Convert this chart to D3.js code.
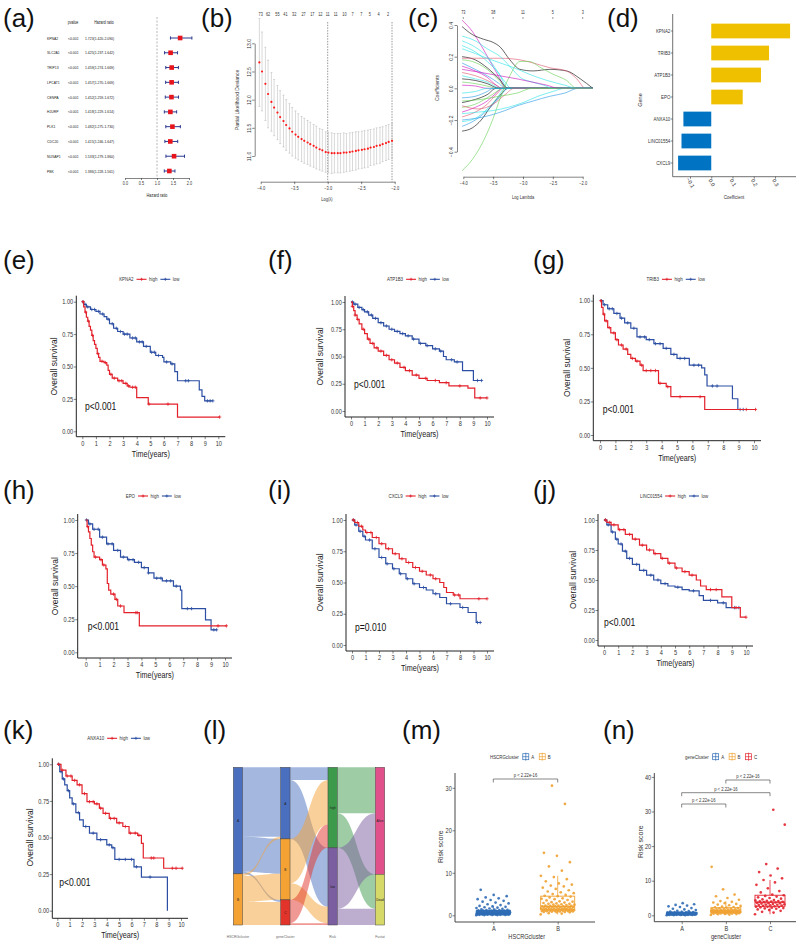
<!DOCTYPE html>
<html><head><meta charset="utf-8">
<script src="https://cdn.jsdelivr.net/npm/d3@7"></script>
<style>body{margin:0;background:#fff}svg{display:block}text{font-family:"Liberation Sans",Arial,sans-serif}</style>
</head><body><svg id="fig" width="799" height="944"></svg>
<script>
// ---------------- DATA ----------------
// (a) univariate Cox forest plot
const forestGenes = ["KPNA2","SLC2A1","TRIP13","LPCAT1","CENPA","HJURP","PLK1","CDC20","NUSAP1","PBK"];
const forestHR = [1.723,1.425,1.459,1.457,1.452,1.418,1.482,1.415,1.533,1.386];
const forestLo = [1.420,1.237,1.274,1.270,1.259,1.229,1.275,1.246,1.279,1.228];
const forestHi = [2.090,1.642,1.669,1.669,1.672,1.614,1.730,1.647,1.860,1.561];
const forestP = ["<0.001","<0.001","<0.001","<0.001","<0.001","<0.001","<0.001","<0.001","<0.001","<0.001"];
const forestTicks = [0.0,0.5,1.0,1.5,2.0];

// (b) cross-validation curve
const cvLogLambda = [-4.02,-3.98,-3.93,-3.89,-3.84,-3.80,-3.75,-3.71,-3.66,-3.62,-3.57,-3.53,-3.48,-3.44,-3.39,-3.35,-3.30,-3.26,-3.21,-3.17,-3.12,-3.08,-3.03,-2.99,-2.94,-2.90,-2.85,-2.81,-2.76,-2.72,-2.67,-2.63,-2.58,-2.54,-2.49,-2.45,-2.40,-2.36,-2.31,-2.27,-2.22,-2.18,-2.13,-2.09,-2.04];
const cvMean = [12.66,12.50,12.28,12.10,11.96,11.86,11.77,11.69,11.62,11.55,11.49,11.43,11.38,11.34,11.30,11.27,11.24,11.21,11.18,11.15,11.12,11.10,11.07,11.06,11.05,11.05,11.05,11.05,11.06,11.06,11.07,11.08,11.09,11.10,11.11,11.12,11.13,11.15,11.16,11.18,11.19,11.21,11.23,11.25,11.27];
const cvSD = [0.78,0.70,0.65,0.60,0.52,0.50,0.48,0.47,0.46,0.45,0.44,0.43,0.42,0.41,0.40,0.40,0.39,0.39,0.38,0.38,0.37,0.37,0.36,0.36,0.36,0.35,0.35,0.35,0.35,0.34,0.34,0.34,0.34,0.33,0.33,0.33,0.33,0.32,0.32,0.32,0.32,0.31,0.31,0.31,0.31];
const cvTopLambda = [-4.0,-3.89,-3.75,-3.63,-3.50,-3.36,-3.23,-3.11,-3.0,-2.88,-2.75,-2.63,-2.50,-2.37,-2.24,-2.10];
const cvTopDf = [73,62,55,41,32,27,17,12,11,11,10,7,7,5,4,2];
const cvLambdaMin = -3.0, cvLambda1se = -2.04;
const cvXTicks = [-4.0,-3.5,-3.0,-2.5,-2.0];
const cvYTicks = [11.0,11.5,12.0,12.5,13.0];

// (c) LASSO coefficient paths  [logLambda, coefficient]
const coefPaths = [
 [[-4.02,0.43],[-3.85,0.36],[-3.7,0.27],[-3.55,0.17],[-3.4,0.07],[-3.28,0]],
 [[-4.02,0.30],[-3.8,0.26],[-3.6,0.20],[-3.45,0.12],[-3.3,0.04],[-3.2,0]],
 [[-4.02,0.27],[-3.8,0.23],[-3.6,0.17],[-3.4,0.09],[-3.25,0]],
 [[-4.02,0.20],[-3.8,0.18],[-3.6,0.13],[-3.4,0.06],[-3.25,0]],
 [[-4.02,0.18],[-3.85,0.17],[-3.6,0.12],[-3.4,0.05],[-3.28,0]],
 [[-4.02,0.16],[-3.8,0.12],[-3.6,0.08],[-3.4,0.03],[-3.3,0]],
 [[-4.02,0.14],[-3.8,0.11],[-3.6,0.07],[-3.45,0.02],[-3.35,0]],
 [[-4.02,0.10],[-3.8,0.08],[-3.6,0.05],[-3.45,0.02],[-3.35,0]],
 [[-4.02,0.08],[-3.8,0.06],[-3.6,0.04],[-3.45,0.01],[-3.38,0]],
 [[-4.02,0.06],[-3.8,0.05],[-3.6,0.03],[-3.4,0]],
 [[-4.02,0.04],[-3.8,0.03],[-3.55,0.01],[-3.45,0]],
 [[-4.02,0.02],[-3.8,0.015],[-3.6,0]],
 [[-4.02,-0.27],[-3.85,-0.25],[-3.7,-0.20],[-3.55,-0.12],[-3.4,-0.05],[-3.25,0]],
 [[-4.02,-0.24],[-3.8,-0.20],[-3.6,-0.14],[-3.4,-0.06],[-3.25,0]],
 [[-4.02,-0.21],[-3.8,-0.19],[-3.6,-0.13],[-3.45,-0.07],[-3.3,0]],
 [[-4.02,-0.18],[-3.8,-0.15],[-3.6,-0.10],[-3.45,-0.04],[-3.33,0]],
 [[-4.02,-0.15],[-3.8,-0.12],[-3.6,-0.08],[-3.45,-0.03],[-3.35,0]],
 [[-4.02,-0.12],[-3.8,-0.10],[-3.6,-0.06],[-3.4,-0.01],[-3.35,0]],
 [[-4.02,-0.09],[-3.8,-0.07],[-3.6,-0.04],[-3.45,0]],
 [[-4.02,-0.06],[-3.8,-0.05],[-3.6,-0.02],[-3.5,0]],
 [[-4.02,-0.03],[-3.8,-0.02],[-3.6,0]],
 [[-4.02,-0.11],[-3.75,-0.13],[-3.5,-0.10],[-3.3,-0.04],[-3.15,0]],
 [[-4.02,0.39],[-3.85,0.34],[-3.66,0.31],[-3.5,0.29],[-3.38,0.26],[-3.22,0.18],[-3.05,0.12],[-2.83,0.11],[-2.55,0.12],[-2.27,0.11],[-2.04,0.06],[-1.83,0]],
 [[-4.02,0.19],[-3.66,0.19],[-3.38,0.19],[-3.05,0.18],[-2.83,0.16],[-2.55,0.13],[-2.27,0.11],[-2.1,0.06],[-1.95,0]],
 [[-4.02,-0.52],[-3.85,-0.45],[-3.66,-0.33],[-3.5,-0.19],[-3.38,-0.06],[-3.22,0.08],[-3.05,0.17],[-2.9,0.17],[-2.7,0.13],[-2.5,0.09],[-2.27,0.05],[-2.1,0]],
 [[-4.02,0.33],[-3.8,0.30],[-3.6,0.25],[-3.38,0.20],[-3.2,0.13],[-3.05,0.07],[-2.85,0.04],[-2.65,0.02],[-2.5,0]],
 [[-4.02,0.25],[-3.8,0.22],[-3.6,0.19],[-3.38,0.16],[-3.15,0.13],[-2.9,0.09],[-2.6,0.05],[-2.3,0.02],[-2.1,0]],
 [[-4.02,-0.20],[-3.8,-0.19],[-3.55,-0.17],[-3.3,-0.14],[-3.1,-0.11],[-2.83,-0.08],[-2.55,-0.05],[-2.3,-0.03],[-2.08,0]],
 [[-4.02,-0.16],[-3.75,-0.15],[-3.5,-0.14],[-3.25,-0.12],[-3.0,-0.09],[-2.75,-0.05],[-2.5,-0.02],[-2.3,0]],
 [[-4.02,0.12],[-3.7,0.10],[-3.4,0.08],[-3.1,0.06],[-2.85,0.04],[-2.6,0.02],[-2.4,0]],
 [[-4.02,-0.08],[-3.7,-0.07],[-3.4,-0.05],[-3.1,-0.03],[-2.85,0]]
];
const coefTopLambda = [-4.0,-3.5,-3.0,-2.5,-2.0];
const coefTopDf = [73,38,11,5,3];
const coefYTicks = [-0.4,-0.2,0.0,0.2,0.4];

// (d) multivariate coefficients
const coefGenes = ["KPNA2","TRIB3","ATP1B3","EPO","ANXA10","LINC01554","CXCL9"];
const coefValues = [0.371,0.272,0.234,0.148,-0.131,-0.140,-0.156];
const coefTicks = [-0.1,0.0,0.1,0.2,0.3];

// (e)-(k) Kaplan-Meier curves  [time, survival]
const kmTimeTicks = [0,1,2,3,4,5,6,7,8,9,10];
const kmSurvTicks = [0,0.25,0.5,0.75,1];
const KPNA2_high = [[0,1],[0.1,0.96],[0.2,0.92],[0.3,0.88],[0.4,0.85],[0.5,0.81],[0.6,0.78],[0.7,0.74],[0.8,0.70],[0.9,0.67],[1.0,0.64],[1.1,0.60],[1.2,0.57],[1.3,0.54],[1.6,0.53],[1.8,0.51],[1.9,0.47],[2.0,0.44],[2.2,0.41],[2.6,0.39],[3.0,0.37],[3.3,0.35],[3.5,0.34],[4.0,0.26],[4.85,0.21],[7.0,0.11],[10.1,0.11]];
const KPNA2_low = [[0,1],[0.1,0.98],[0.3,0.96],[0.6,0.94],[1.0,0.925],[1.3,0.905],[1.6,0.885],[1.8,0.865],[2.0,0.83],[2.3,0.795],[2.6,0.77],[3.0,0.75],[3.5,0.72],[4.0,0.69],[4.5,0.655],[5.0,0.61],[5.4,0.585],[5.9,0.57],[6.0,0.535],[6.5,0.52],[6.8,0.46],[7.0,0.39],[8.6,0.32],[8.8,0.27],[9.0,0.235],[9.6,0.235]];
const KPNA2_highCens = [0.05,0.25,0.45,0.75,1.15,1.45,1.7,2.1,2.35,2.7,2.9,3.2,3.4,3.7,3.9,4.9,6.3,10.1];
const KPNA2_lowCens = [0.05,0.2,0.4,0.7,0.9,1.2,1.5,1.9,2.2,2.5,2.8,3.1,3.3,3.7,3.9,4.2,4.4,4.7,5.1,5.3,5.6,6.2,6.6,7.6,7.8,9.2,9.4,9.6];
const ATP1B3_high = [[0,1],[0.1,0.96],[0.2,0.92],[0.3,0.88],[0.45,0.84],[0.6,0.80],[0.8,0.75],[1.0,0.71],[1.2,0.66],[1.4,0.62],[1.7,0.58],[2.0,0.55],[2.4,0.51],[2.8,0.47],[3.2,0.44],[3.6,0.40],[4.0,0.37],[4.5,0.33],[5.0,0.30],[5.6,0.28],[6.5,0.26],[7.2,0.23],[8.6,0.21],[9.1,0.12],[10.0,0.12]];
const ATP1B3_low = [[0,1],[0.2,0.98],[0.5,0.95],[0.8,0.93],[1.0,0.91],[1.3,0.88],[1.6,0.85],[2.0,0.81],[2.4,0.78],[2.8,0.75],[3.2,0.73],[3.6,0.71],[4.0,0.69],[4.5,0.66],[5.0,0.62],[5.5,0.60],[6.0,0.57],[6.5,0.55],[6.8,0.50],[7.0,0.47],[7.6,0.45],[8.2,0.37],[9.0,0.28],[9.6,0.28]];
const ATP1B3_highCens = [0.1,0.3,0.5,0.9,1.3,1.6,1.9,2.2,2.6,3.0,3.4,3.9,4.3,4.8,5.5,6.2,7.0,8.0,9.5,10.0];
const ATP1B3_lowCens = [0.1,0.3,0.6,0.9,1.2,1.5,1.8,2.2,2.6,3.0,3.4,3.8,4.2,4.6,5.1,5.6,6.2,6.6,7.4,7.8,9.3,9.6];
const TRIB3_high = [[0,1],[0.1,0.95],[0.2,0.90],[0.3,0.85],[0.5,0.80],[0.7,0.76],[1.0,0.71],[1.2,0.67],[1.5,0.64],[1.8,0.60],[2.0,0.57],[2.3,0.55],[2.6,0.52],[2.8,0.48],[3.8,0.385],[4.3,0.36],[4.6,0.285],[6.8,0.19],[10.1,0.19]];
const TRIB3_low = [[0,1],[0.2,0.97],[0.5,0.94],[0.9,0.905],[1.3,0.87],[1.6,0.835],[2.0,0.795],[2.4,0.73],[3.0,0.71],[3.5,0.68],[4.1,0.645],[4.6,0.60],[5.0,0.57],[5.8,0.52],[6.6,0.50],[6.8,0.447],[6.95,0.365],[8.6,0.27],[8.95,0.19],[9.4,0.19]];
const TRIB3_highCens = [0.05,0.25,0.4,0.6,0.9,1.1,1.4,1.7,2.1,2.4,2.7,3.0,3.3,3.6,3.9,4.4,5.2,6.5,9.5,10.1];
const TRIB3_lowCens = [0.1,0.3,0.6,0.8,1.1,1.4,1.8,2.2,2.6,2.9,3.2,3.6,3.9,4.3,4.8,5.2,5.5,6.1,6.4,7.3,7.6,9.1,9.3];
const EPO_high = [[0,1],[0.1,0.95],[0.2,0.91],[0.3,0.86],[0.4,0.81],[0.5,0.76],[0.6,0.72],[1.0,0.70],[1.2,0.66],[1.45,0.63],[1.55,0.52],[1.65,0.47],[1.8,0.44],[2.1,0.40],[2.3,0.35],[2.75,0.30],[3.85,0.20],[10.1,0.20]];
const EPO_low = [[0,1],[0.2,0.97],[0.5,0.93],[1.0,0.87],[1.5,0.82],[2.0,0.77],[2.5,0.72],[3.0,0.70],[3.5,0.68],[4.0,0.64],[4.5,0.60],[4.9,0.56],[5.5,0.54],[6.3,0.50],[6.8,0.47],[6.9,0.33],[8.6,0.245],[9.0,0.17],[9.4,0.17]];
const EPO_highCens = [0.15,0.7,1.1,1.3,2.0,2.2,2.5,3.6,3.7,9.5,10.1];
const EPO_lowCens = [0.05,0.3,0.6,0.9,1.2,1.6,1.9,2.3,2.7,3.1,3.4,3.8,4.2,4.5,5.1,5.4,5.8,6.1,6.5,7.3,7.6,9.2,9.4];
const CXCL9_high = [[0,1],[0.2,0.98],[0.5,0.95],[0.8,0.92],[1.0,0.90],[1.5,0.86],[2.0,0.81],[2.5,0.77],[3.0,0.73],[3.5,0.69],[4.0,0.66],[4.5,0.62],[5.0,0.59],[5.5,0.56],[6.0,0.53],[6.5,0.50],[6.8,0.46],[7.0,0.42],[7.5,0.40],[8.0,0.37],[10.0,0.37]];
const CXCL9_low = [[0,1],[0.2,0.96],[0.5,0.91],[0.8,0.87],[1.0,0.84],[1.5,0.77],[2.0,0.70],[2.5,0.65],[3.0,0.61],[3.5,0.57],[4.0,0.53],[4.5,0.49],[5.0,0.46],[5.5,0.44],[6.0,0.41],[6.5,0.38],[7.0,0.33],[8.0,0.30],[8.6,0.26],[9.2,0.18],[9.5,0.18]];
const CXCL9_highCens = [0.1,0.4,0.7,1.1,1.4,1.8,2.2,2.7,3.2,3.7,4.2,4.7,5.2,5.8,6.2,7.6,7.9,9.4,10.0];
const CXCL9_lowCens = [0.1,0.3,0.6,0.9,1.3,1.7,2.2,2.6,3.1,3.6,4.1,4.6,5.3,6.2,7.3,8.2,9.3,9.5];
const LINC01554_high = [[0,1],[0.2,0.98],[0.5,0.96],[1.0,0.92],[1.5,0.88],[2.0,0.84],[2.5,0.79],[3.0,0.75],[3.5,0.72],[4.0,0.68],[4.5,0.64],[5.0,0.60],[5.5,0.57],[6.0,0.54],[6.5,0.50],[6.8,0.45],[7.2,0.42],[8.3,0.36],[9.0,0.27],[9.6,0.19],[10.0,0.19]];
const LINC01554_low = [[0,1],[0.2,0.96],[0.5,0.90],[0.8,0.84],[1.0,0.80],[1.3,0.74],[1.6,0.68],[2.0,0.63],[2.5,0.58],[3.0,0.54],[3.5,0.50],[4.0,0.47],[4.5,0.45],[5.0,0.44],[5.5,0.42],[6.0,0.41],[6.7,0.37],[7.0,0.33],[8.0,0.31],[8.6,0.27],[9.5,0.27]];
const LINC01554_highCens = [0.1,0.4,0.7,1.1,1.4,1.8,2.2,2.7,3.2,3.6,4.1,4.6,5.1,5.7,6.2,7.5,7.9,9.3,10.0];
const LINC01554_lowCens = [0.1,0.3,0.6,0.9,1.2,1.5,1.8,2.3,2.8,3.3,3.8,4.3,5.2,6.3,7.5,8.4,9.2,9.5];
const ANXA10_high = [[0,1],[0.3,0.96],[0.7,0.92],[1.2,0.89],[1.6,0.86],[2.0,0.80],[2.4,0.745],[3.0,0.73],[3.4,0.70],[3.7,0.665],[4.2,0.63],[4.8,0.60],[5.3,0.575],[5.8,0.53],[6.5,0.515],[6.8,0.46],[6.95,0.36],[8.6,0.29],[10.1,0.29]];
const ANXA10_low = [[0,1],[0.2,0.95],[0.4,0.90],[0.6,0.86],[0.8,0.82],[1.0,0.77],[1.2,0.73],[1.5,0.67],[1.8,0.62],[2.1,0.575],[2.6,0.53],[3.2,0.485],[4.0,0.45],[4.4,0.43],[4.65,0.35],[6.2,0.30],[6.8,0.23],[8.9,0.0]];
const ANXA10_highCens = [0.1,0.4,0.8,1.1,1.4,1.8,2.2,2.6,2.9,3.2,3.5,3.9,4.3,4.6,5.0,5.5,5.9,6.3,6.6,7.6,7.8,9.3,9.6,10.1];
const ANXA10_lowCens = [0.1,0.3,0.5,0.9,1.3,1.7,2.3,2.9,3.5,4.2,4.5,5.0,5.5,6.0,6.4,7.5];
const kmPValues = {KPNA2:"p<0.001",ATP1B3:"p<0.001",TRIB3:"p<0.001",EPO:"p<0.001",CXCL9:"p=0.010",LINC01554:"p<0.001",ANXA10:"p<0.001"};

// (l) alluvial
const alluvAxisNames = ["HSCRGcluster","geneCluster","Risk","Fustat"];
const alluvStrata = [["A","B"],["A","B","C"],["high","low"],["Alive","Dead"]];
const flows12 = [[163,82,5],[5,61,54]];
const flows23 = [[30,138],[104,39],[55,4]];
const flows34 = [[108,81],[143,38]];

// (m) risk score by HSCRGcluster
const riskHSCRG_A = [0.03,0.05,0.06,0.08,0.1,0.11,0.12,0.14,0.15,0.16,0.18,0.19,0.2,0.21,0.22,0.23,0.24,0.25,0.26,0.27,0.28,0.29,0.3,0.3,0.31,0.32,0.34,0.35,0.36,0.38,0.39,0.4,0.41,0.43,0.44,0.45,0.46,0.47,0.48,0.5,0.5,0.52,0.53,0.54,0.55,0.56,0.57,0.58,0.6,0.6,0.62,0.63,0.64,0.65,0.66,0.67,0.68,0.7,0.72,0.73,0.74,0.75,0.77,0.78,0.8,0.82,0.83,0.84,0.86,0.88,0.9,0.92,0.93,0.95,0.97,1.0,1.02,1.05,1.08,1.1,1.12,1.15,1.2,1.25,1.3,1.35,1.4,1.5,1.6,1.7,1.8,1.9,2.0,2.1,2.2,2.4,2.6,2.8,3.0,3.2,3.4,3.6,3.8,4.0,4.2,4.5,4.8,6.0];
const riskHSCRG_B = [0.2,0.4,0.5,0.7,0.7,0.8,0.8,0.85,0.9,0.9,0.95,1.0,1.0,1.0,1.05,1.1,1.1,1.1,1.15,1.2,1.2,1.2,1.25,1.3,1.3,1.3,1.35,1.4,1.4,1.4,1.45,1.5,1.5,1.6,1.6,1.6,1.7,1.7,1.8,1.8,1.8,1.9,1.9,1.9,2.0,2.0,2.1,2.1,2.1,2.2,2.2,2.3,2.3,2.4,2.5,2.5,2.6,2.7,2.7,2.8,2.9,3.0,3.1,3.2,3.3,3.5,3.6,3.8,3.9,4.0,4.2,4.4,4.5,4.6,4.8,5.0,5.2,5.4,5.6,5.9,6.2,6.5,6.8,7.0,7.2,7.5,8.0,8.5,9.0,9.3,10.5,11.5,12.5,14.0,14.7,26.2,30.5];
const hscrgCats = ["A","B"];
const hscrgYTicks = [0,10,20,30];

// (n) risk score by geneCluster
const riskGene_A = [0.02,0.05,0.07,0.08,0.1,0.12,0.14,0.15,0.16,0.17,0.18,0.2,0.21,0.22,0.23,0.24,0.25,0.26,0.27,0.28,0.29,0.3,0.31,0.32,0.33,0.34,0.35,0.36,0.37,0.38,0.39,0.4,0.41,0.42,0.43,0.44,0.44,0.45,0.46,0.47,0.48,0.49,0.5,0.51,0.52,0.53,0.54,0.55,0.56,0.57,0.58,0.59,0.6,0.61,0.62,0.63,0.64,0.65,0.66,0.67,0.68,0.69,0.7,0.72,0.74,0.76,0.78,0.8,0.83,0.86,0.9,0.95,1.0,1.1,1.2,1.3,1.5,1.7,1.9,2.1,2.4,2.6,2.8,3.0,3.2,3.5];
const riskGene_B = [0.1,0.2,0.3,0.35,0.4,0.45,0.5,0.55,0.6,0.62,0.65,0.68,0.7,0.72,0.75,0.78,0.8,0.82,0.85,0.88,0.9,0.92,0.95,0.98,1.0,1.02,1.05,1.08,1.1,1.12,1.15,1.18,1.2,1.22,1.25,1.28,1.3,1.35,1.4,1.45,1.5,1.55,1.6,1.65,1.7,1.75,1.8,1.85,1.9,2.0,2.1,2.2,2.3,2.4,2.5,2.7,2.9,3.1,3.3,3.5,3.7,3.9,4.1,4.5,5.0,5.5,6.0,7.5,14.0];
const riskGene_C = [0.3,0.8,1.0,1.3,1.5,1.7,1.9,2.0,2.1,2.2,2.3,2.4,2.45,2.5,2.6,2.7,2.8,2.9,3.0,3.05,3.1,3.2,3.3,3.4,3.45,3.5,3.6,3.7,3.8,3.9,3.95,4.0,4.1,4.2,4.3,4.4,4.6,4.8,5.0,5.2,5.4,5.6,5.8,6.0,6.6,7.0,7.8,8.8,9.5,10.2,10.7,11.5,12.5,13.5,14.8,26.2,30.5];
const geneCats = ["A","B","C"];
const geneYTicks = [0,10,20,30,40];
const pLabel = "p < 2.22e-16";

// ---------------- DRAWING ----------------
const svg = d3.select("#fig");
svg.append("rect").attr("width",799).attr("height",944).attr("fill","#fff");

function T(g,x,y,s,o={}){
  const sx = o.sx===undefined?0.8:o.sx;
  let tr=`translate(${x},${y})`;
  if(o.rot) tr+=` rotate(${o.rot})`;
  if(sx!==1) tr+=` scale(${sx},1)`;
  return g.append("text").attr("transform",tr).attr("font-size",o.size||6)
    .attr("text-anchor",o.anchor||"start").attr("dy",o.dy||null)
    .attr("fill",o.fill||"#1a1a1a").text(s);
}
function styleAxis(sel,size,sx,color,keepDomain){
  sel.attr("font-family",null);
  if(!keepDomain) sel.select(".domain").remove(); else sel.select(".domain").attr("stroke",color).attr("stroke-width",0.6);
  sel.selectAll(".tick line").attr("stroke",color).attr("stroke-width",0.6);
  sel.selectAll(".tick text").attr("font-size",size).attr("fill",color).attr("transform",`scale(${sx},1)`);
}
function L(g,x1,y1,x2,y2,c,w,dash){
  return g.append("line").attr("x1",x1).attr("y1",y1).attr("x2",x2).attr("y2",y2)
    .attr("stroke",c).attr("stroke-width",w).attr("stroke-dasharray",dash||null);
}

// panel labels
[["(a)",3,27],["(b)",201,27],["(c)",408,27],["(d)",607,27],
 ["(e)",3,269],["(f)",268,269],["(g)",533,269],
 ["(h)",3,499],["(i)",268,499],["(j)",533,499],
 ["(k)",3,739],["(l)",203,739],["(m)",402,739],["(n)",603,739]]
 .forEach(p=>T(svg,p[1],p[2],p[0],{size:26,sx:1,fill:"#111"}));

// ---- (a) forest ----
(function(){
  const g=svg.append("g");
  const y=d3.scalePoint().domain(forestGenes).range([38,171]);
  const x=d3.scaleLinear().domain([0,2]).range([125,189]);
  T(g,73,24,"pvalue",{size:4.5,anchor:"middle"});
  T(g,104,24,"Hazard ratio",{size:4.5,anchor:"middle"});
  L(g,x(1),17,x(1),177,"#999",0.7,"2,1.5");
  forestGenes.forEach((gn,i)=>{
    const yy=y(gn);
    T(g,47,yy,gn,{size:4.3,dy:"0.35em"});
    T(g,68,yy,forestP[i],{size:4.3,dy:"0.35em"});
    T(g,85,yy,`${forestHR[i].toFixed(3)}(${forestLo[i].toFixed(3)}-${forestHi[i].toFixed(3)})`,{size:4.3,dy:"0.35em"});
    L(g,x(forestLo[i]),yy,x(forestHi[i]),yy,"#2B3990",1);
    L(g,x(forestLo[i]),yy-1.6,x(forestLo[i]),yy+1.6,"#2B3990",1);
    L(g,x(forestHi[i]),yy-1.6,x(forestHi[i]),yy+1.6,"#2B3990",1);
    g.append("rect").attr("x",x(forestHR[i])-2.3).attr("y",yy-2.3).attr("width",4.6).attr("height",4.6).attr("fill","#E8141B");
  });
  const ax=g.append("g").attr("transform","translate(0,178)")
    .call(d3.axisBottom(x).tickValues(forestTicks).tickFormat(d3.format(".1f")).tickSize(2).tickSizeOuter(0).tickPadding(1.5));
  styleAxis(ax,4.5,0.85,"#333",true);
  T(g,157,197,"Hazard ratio",{size:4.8,anchor:"middle"});
})();

// ---- (b) CV ----
(function(){
  const g=svg.append("g");
  const x=d3.scaleLinear().domain([-4,-2]).range([260.7,394.7]);
  const y=d3.scaleLinear().domain([11,13]).range([156,43.3]);
  L(g,x(cvLambdaMin),22,x(cvLambdaMin),181.7,"#555",0.6,"1.5,1.2");
  L(g,x(cvLambda1se),22,x(cvLambda1se),181.7,"#555",0.6,"1.5,1.2");
  cvLogLambda.forEach((l,i)=>{
    const xx=x(l), y1=y(cvMean[i]-cvSD[i]), y2=y(cvMean[i]+cvSD[i]);
    L(g,xx,y1,xx,y2,"#b3b3b3",0.5);
    L(g,xx-1,y1,xx+1,y1,"#b3b3b3",0.5);
    L(g,xx-1,y2,xx+1,y2,"#b3b3b3",0.5);
  });
  cvLogLambda.forEach((l,i)=>g.append("circle").attr("cx",x(l)).attr("cy",y(cvMean[i])).attr("r",1.1).attr("fill","#FF1A1A"));
  const ax=g.append("g").attr("transform","translate(0,181.7)")
    .call(d3.axisBottom(x).tickValues(cvXTicks).tickFormat(d3.format(".1f")).tickSize(2.5).tickSizeOuter(0).tickPadding(2));
  styleAxis(ax,5,0.8,"#333",true);
  const ay=g.append("g").attr("transform","translate(254.7,0)")
    .call(d3.axisLeft(y).tickValues(cvYTicks).tickFormat(d3.format(".1f")).tickSize(2.5).tickSizeOuter(0));
  styleAxis(ay,5,1,"#333",true);
  ay.selectAll(".tick text").attr("transform","rotate(-90)").attr("text-anchor","middle").attr("x",0).attr("y",-4).attr("dy",0);
  cvTopLambda.forEach((l,i)=>T(g,x(l),16,String(cvTopDf[i]),{size:4.8,anchor:"middle",fill:"#333"}));
  T(g,239,100,"Partial Likelihood Deviance",{size:5,rot:-90,anchor:"middle",sx:1,fill:"#333"});
  T(g,327,201,"Log(λ)",{size:5,anchor:"middle",fill:"#333"});
})();

// ---- (c) coefficient paths ----
(function(){
  const g=svg.append("g");
  const x=d3.scaleLinear().domain([-4,-2]).range([463.3,582.7]);
  const y=d3.scaleLinear().domain([-0.4,0.4]).range([151.7,25]);
  const pal=["#000000","#DF536B","#61D04F","#2297E6","#28E2E5","#CD0BBC"];
  const colorIdx=[5,4,4,0,2,3,5,1,4,0,2,5,0,3,4,1,5,2,0,3,4,1,0,1,2,4,4,3,4,5,2];
  const line=d3.line().x(d=>x(d[0])).y(d=>y(d[1])).curve(d3.curveMonotoneX);
  coefPaths.forEach((p,i)=>{
    const pts=p.slice();
    const last=pts[pts.length-1];
    if(last[1]===0 && last[0]<-1.83) pts.push([-1.83,0]);
    g.append("path").attr("d",line(pts)).attr("fill","none").attr("stroke",pal[colorIdx[i]%6]).attr("stroke-width",0.6);
  });
  const ax=g.append("g").attr("transform","translate(0,176.7)")
    .call(d3.axisBottom(x).tickValues(cvXTicks).tickFormat(d3.format(".1f")).tickSize(2.5).tickSizeOuter(0).tickPadding(2));
  styleAxis(ax,5,0.8,"#333",true);
  const ay=g.append("g").attr("transform","translate(457,0)")
    .call(d3.axisLeft(y).tickValues(coefYTicks).tickFormat(d3.format(".1f")).tickSize(2.5).tickSizeOuter(0));
  styleAxis(ay,5,1,"#333",true);
  ay.selectAll(".tick text").attr("transform","rotate(-90)").attr("text-anchor","middle").attr("x",0).attr("y",-4).attr("dy",0);
  coefTopLambda.forEach((l,i)=>{
    T(g,x(l),14,String(coefTopDf[i]),{size:4.8,anchor:"middle",fill:"#333"});
    L(g,x(l),17,x(l),19,"#333",0.5);
  });
  T(g,439,88,"Coefficients",{size:5,rot:-90,anchor:"middle",sx:1,fill:"#333"});
  T(g,523,199,"Log Lambda",{size:5,anchor:"middle",fill:"#333"});
})();

// ---- (d) coefficient bars ----
(function(){
  const g=svg.append("g");
  const y=d3.scaleBand().domain(coefGenes).range([20,174]).paddingInner(0.33).paddingOuter(0.165);
  const x=d3.scaleLinear().domain([-0.1,0.3]).range([690,775]);
  coefGenes.forEach((gn,i)=>{
    const v=coefValues[i];
    g.append("rect").attr("x",Math.min(x(0),x(v))).attr("y",y(gn)).attr("width",Math.abs(x(v)-x(0))).attr("height",y.bandwidth())
      .attr("fill",v>0?"#EFC000":"#0073C2");
  });
  const ay=g.append("g").attr("transform","translate(672.7,0)").call(d3.axisLeft(y).tickSize(2).tickPadding(1));
  styleAxis(ay,5.5,0.8,"#333");
  L(g,672.7,14,672.7,176.7,"#333",0.7);
  const ax=g.append("g").attr("transform","translate(0,176.7)").call(d3.axisBottom(x).tickValues(coefTicks).tickFormat(d3.format(".1f")).tickSize(2));
  styleAxis(ax,5.5,1,"#333");
  ax.selectAll(".tick text").attr("transform","translate(0,6) rotate(60)").attr("text-anchor","middle").attr("y",0).attr("dy","0.35em");
  L(g,672.7,176.7,796,176.7,"#333",0.7);
  T(g,734,199,"Coefficient",{size:5.5,anchor:"middle",fill:"#333"});
  T(g,641.7,100,"Gene",{size:5.5,rot:-90,anchor:"middle",sx:1,fill:"#333"});
})();

// ---- KM panels ----
const RED="#E3212B", BLUE="#2C4FA3";
function survAt(pts,t){let s=pts[0][1];for(const p of pts){if(p[0]<=t)s=p[1];else break;}return s;}
function drawKM(cfg,gene,high,low,highC,lowC){
  const g=svg.append("g");
  const x=d3.scaleLinear().domain([0,10]).range([cfg.x0,cfg.x10]);
  const y=d3.scaleLinear().domain([0,1]).range([cfg.y0,cfg.y1]);
  const xr=cfg.x10+7;
  const gx=g.append("g").attr("transform",`translate(0,${cfg.ay})`)
    .call(d3.axisBottom(x).tickValues(kmTimeTicks).tickFormat(d3.format("d")).tickSize(2.5).tickPadding(1.5));
  styleAxis(gx,7,0.8,"#333");
  const gy=g.append("g").attr("transform",`translate(${cfg.ax},0)`)
    .call(d3.axisLeft(y).tickValues(kmSurvTicks).tickFormat(d3.format(".2f")).tickSize(2.5).tickPadding(1.5));
  styleAxis(gy,7,0.8,"#333");
  L(g,cfg.ax,cfg.ay,xr,cfg.ay,"#222",1);
  L(g,cfg.ax,cfg.y1-6,cfg.ax,cfg.ay,"#222",1);
  [[low,lowC,BLUE],[high,highC,RED]].forEach(([pts,cens,col])=>{
    let d=`M${x(pts[0][0])},${y(pts[0][1])}`;
    for(let i=1;i<pts.length;i++) d+=`H${x(pts[i][0])}V${y(pts[i][1])}`;
    g.append("path").attr("d",d).attr("fill","none").attr("stroke",col).attr("stroke-width",1.2);
    cens.forEach(t=>{
      const cx=x(t), cy=y(survAt(pts,t));
      g.append("path").attr("d",`M${cx-1.6},${cy}h3.2M${cx},${cy-1.7}v3.4`).attr("stroke",col).attr("stroke-width",0.8);
    });
  });
  T(g,cfg.ytx,(cfg.y0+cfg.y1)/2,"Overall survival",{size:8.5,rot:-90,anchor:"middle",sx:1,fill:"#222"});
  T(g,(cfg.ax+xr)/2,cfg.ay+20,"Time(years)",{size:9,anchor:"middle",fill:"#222"});
  T(g,cfg.px,cfg.py,kmPValues[gene],{size:11,sx:0.78,fill:"#111"});
  // legend
  const lg=g.append("g");
  const sx=0.8;
  const t1=T(lg,0,0,gene,{size:5.5,dy:"0.35em",fill:"#333"});
  let pos=t1.node().getComputedTextLength()*sx+3;
  [[RED,"high"],[BLUE,"low"]].forEach(([c,lab])=>{
    L(lg,pos,0,pos+10,0,c,1.1);
    lg.append("path").attr("d",`M${pos+3.5},0h3M${pos+5},-1.5v3`).attr("stroke",c).attr("stroke-width",0.8);
    pos+=12.5;
    const tt=T(lg,pos,0,lab,{size:5.5,dy:"0.35em",fill:"#333"});
    pos+=tt.node().getComputedTextLength()*sx+3;
  });
  lg.attr("transform",`translate(${(cfg.ax+xr)/2-pos/2},${cfg.ly})`);
}
drawKM({x0:82.3,x10:218.3,y1:301.7,y0:431.3,ax:76.3,ay:436.7,ytx:56.7,px:85,py:410,ly:279.3},"KPNA2",KPNA2_high,KPNA2_low,KPNA2_highCens,KPNA2_lowCens);
drawKM({x0:351,x10:487,y1:302,y0:411,ax:345,ay:417,ytx:323,px:354,py:388,ly:279.3},"ATP1B3",ATP1B3_high,ATP1B3_low,ATP1B3_highCens,ATP1B3_lowCens);
drawKM({x0:600,x10:754,y1:300.7,y0:435,ax:593.3,ay:440.7,ytx:570,px:602.7,py:413,ly:279.3},"TRIB3",TRIB3_high,TRIB3_low,TRIB3_highCens,TRIB3_lowCens);
drawKM({x0:85.7,x10:225,y1:520,y0:652.3,ax:77.7,ay:658,ytx:58.3,px:87.7,py:630,ly:496},"EPO",EPO_high,EPO_low,EPO_highCens,EPO_lowCens);
drawKM({x0:352,x10:487,y1:520,y0:645,ax:346,ay:651,ytx:323,px:355,py:631,ly:496},"CXCL9",CXCL9_high,CXCL9_low,CXCL9_highCens,CXCL9_lowCens);
drawKM({x0:604,x10:746,y1:520,y0:640,ax:598,ay:646,ytx:576,px:604,py:626,ly:496},"LINC01554",LINC01554_high,LINC01554_low,LINC01554_highCens,LINC01554_lowCens);
drawKM({x0:57.3,x10:181,y1:764.3,y0:910.7,ax:52.3,ay:918.3,ytx:33.3,px:59.3,py:886,ly:738.3},"ANXA10",ANXA10_high,ANXA10_low,ANXA10_highCens,ANXA10_lowCens);

// ---- (l) alluvial ----
(function(){
  const g=svg.append("g");
  const flowsAll=[flows12,flows23,flows34];
  const colSums=F=>F[0].map((_,j)=>d3.sum(F,r=>r[j]));
  const sizes=[flows12.map(r=>d3.sum(r)),colSums(flows12),colSums(flows23),colSums(flows34)];
  const total=d3.sum(sizes[0]);
  const yL=d3.scaleLinear().domain([0,total]).range([767.3,925]);
  const xL=d3.scalePoint().domain(alluvAxisNames).range([238,380]);
  const sw=9.4;
  const starts=sizes.map(s=>{let c=0;return s.map(v=>{const o=c;c+=v;return o;});});
  const colors=[["#4A6FBF","#F4A233"],["#4A6FBF","#F4A233","#E2342A"],["#3D9A4B","#7B5EA0"],["#E1508B","#D6D867"]];
  flowsAll.forEach((F,a)=>{
    const src=starts[a].slice(), tgt=starts[a+1].slice();
    const x1=xL(alluvAxisNames[a])+sw/2, x2=xL(alluvAxisNames[a+1])-sw/2, xm=(x1+x2)/2;
    F.forEach((row,i)=>row.forEach((v,j)=>{
      if(v<=0) return;
      const a1=yL(src[i]), a2=yL(src[i]+v); src[i]+=v;
      const b1=yL(tgt[j]), b2=yL(tgt[j]+v); tgt[j]+=v;
      g.append("path").attr("d",`M${x1},${a1}C${xm},${a1} ${xm},${b1} ${x2},${b1}L${x2},${b2}C${xm},${b2} ${xm},${a2} ${x1},${a2}Z`)
        .attr("fill",colors[a][i]).attr("fill-opacity",0.5).attr("stroke","none");
    }));
  });
  sizes.forEach((s,a)=>{
    const xc=xL(alluvAxisNames[a]);
    s.forEach((v,k)=>{
      g.append("rect").attr("x",xc-sw/2).attr("y",yL(starts[a][k])).attr("width",sw).attr("height",yL(v)-yL(0))
        .attr("fill",colors[a][k]).attr("stroke","#444").attr("stroke-width",0.5);
      T(g,xc,yL(starts[a][k]+v/2),alluvStrata[a][k],{size:4,anchor:"middle",dy:"0.35em",fill:"#222"});
    });
    T(g,xc,938,alluvAxisNames[a],{size:4.3,anchor:"middle",fill:"#666"});
  });
})();

// ---- (m), (n) box plots ----
function drawBox(cfg){
  const g=svg.append("g");
  const y=d3.scaleLinear().domain([0,10]).range([cfg.y0,cfg.y0-cfg.per10]);
  const x=d3.scalePoint().domain(cfg.cats).range(cfg.cx);
  const gy=g.append("g").attr("transform",`translate(${cfg.ax},0)`).call(d3.axisLeft(y).tickValues(cfg.ticks).tickSize(2.5).tickPadding(1.5));
  styleAxis(gy,7,0.8,"#333");
  const gx=g.append("g").attr("transform",`translate(0,${cfg.ay})`).call(d3.axisBottom(x).tickSize(2.5).tickPadding(1.5));
  styleAxis(gx,7,0.8,"#333");
  L(g,cfg.ax,cfg.yTop,cfg.ax,cfg.ay,"#333",0.9);
  L(g,cfg.ax,cfg.ay,cfg.xRight,cfg.ay,"#333",0.9);
  cfg.data.forEach((arr,gi)=>{
    const c=cfg.colors[gi], cx=x(cfg.cats[gi]);
    arr.forEach((v,i)=>{
      const off=(((i*0.6180339887)%1)-0.5)*cfg.jw;
      g.append("circle").attr("cx",cx+off).attr("cy",y(v)).attr("r",1.35).attr("fill",c).attr("fill-opacity",0.9);
    });
  });
  cfg.data.forEach((arr,gi)=>{
    const c=cfg.colors[gi], cx=x(cfg.cats[gi]);
    const s=arr.slice().sort(d3.ascending);
    const q1=d3.quantile(s,0.25), md=d3.quantile(s,0.5), q3=d3.quantile(s,0.75), iqr=q3-q1;
    const lo=d3.min(s.filter(v=>v>=q1-1.5*iqr)), hi=d3.max(s.filter(v=>v<=q3+1.5*iqr));
    L(g,cx,y(q3),cx,y(hi),c,0.8); L(g,cx,y(q1),cx,y(lo),c,0.8);
    g.append("rect").attr("x",cx-cfg.bw/2).attr("y",y(q3)).attr("width",cfg.bw).attr("height",y(q1)-y(q3))
      .attr("fill","none").attr("stroke",c).attr("stroke-width",0.9);
    L(g,cx-cfg.bw/2,y(md),cx+cfg.bw/2,y(md),c,1.3);
  });
  cfg.brackets.forEach(b=>{
    const xa=x(cfg.cats[b[0]]), xb=x(cfg.cats[b[1]]);
    g.append("path").attr("d",`M${xa},${b[2]+3.5}V${b[2]}H${xb}V${b[2]+3.5}`).attr("fill","none").attr("stroke","#555").attr("stroke-width",0.7);
    T(g,(xa+xb)/2,b[2]-1.8,pLabel,{size:5.2,anchor:"middle",fill:"#333"});
  });
  // legend
  const lg=g.append("g").attr("transform",`translate(${cfg.lx},${cfg.ly})`);
  const t0=T(lg,0,0,cfg.title,{size:5.5,dy:"0.35em",fill:"#333"});
  let pos=t0.node().getComputedTextLength()*0.8+4;
  cfg.cats.forEach((cat,i)=>{
    const c=cfg.colors[i];
    lg.append("rect").attr("x",pos).attr("y",-3).attr("width",6).attr("height",6).attr("fill","#fff").attr("stroke",c).attr("stroke-width",0.7);
    L(lg,pos+3,-4,pos+3,4,c,0.7); L(lg,pos,0,pos+6,0,c,0.7);
    pos+=8.5;
    const tt=T(lg,pos,0,cat,{size:5.5,dy:"0.35em",fill:"#333"});
    pos+=tt.node().getComputedTextLength()*0.8+5;
  });
  T(g,cfg.xtx,939,cfg.title,{size:7,anchor:"middle",fill:"#333"});
  T(g,cfg.ytx,cfg.yty,"Risk score",{size:7,rot:-90,anchor:"middle",sx:1,fill:"#333"});
}
drawBox({cats:hscrgCats,data:[riskHSCRG_A,riskHSCRG_B],colors:["#2E6CB5","#F0A232"],ticks:hscrgYTicks,
  y0:915.3,per10:42.5,cx:[493.3,557.7],ax:455,ay:922,yTop:773,xRight:595,bw:34,jw:34,
  brackets:[[0,1,779]],title:"HSCRGcluster",lx:490,ly:756.7,xtx:526.7,ytx:442.7,yty:846.7});
drawBox({cats:geneCats,data:[riskGene_A,riskGene_B,riskGene_C],colors:["#2E6CB5","#F0A232","#E3242F"],ticks:geneYTicks,
  y0:915.3,per10:34.6,cx:[681.7,770],ax:654.3,ay:921.7,yTop:773,xRight:796,bw:30,jw:30,
  brackets:[[0,1,804],[0,2,792.7],[1,2,780]],title:"geneCluster",lx:685,ly:756.7,xtx:726,ytx:642.7,yty:841.7});
</script></body></html>
